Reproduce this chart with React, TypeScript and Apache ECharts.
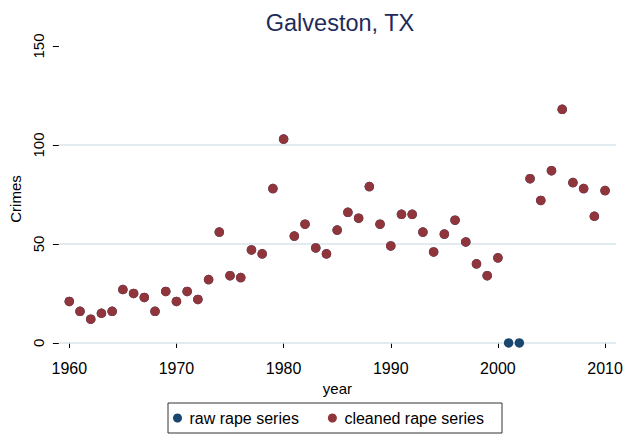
import React, { useEffect, useRef } from "react";
import * as echarts from "echarts";

const years: number[] = [
  1960, 1961, 1962, 1963, 1964, 1965, 1966, 1967, 1968, 1969,
  1970, 1971, 1972, 1973, 1974, 1975, 1976, 1977, 1978, 1979,
  1980, 1981, 1982, 1983, 1984, 1985, 1986, 1987, 1988, 1989,
  1990, 1991, 1992, 1993, 1994, 1995, 1996, 1997, 1998, 1999,
  2000, 2001, 2002, 2003, 2004, 2005, 2006, 2007, 2008, 2009, 2010,
];

const rawRape: (number | null)[] = [
  21, 16, 12, 15, 16, 27, 25, 23, 16, 26,
  21, 26, 22, 32, 56, 34, 33, 47, 45, 78,
  103, 54, 60, 48, 45, 57, 66, 63, 79, 60,
  49, 65, 65, 56, 46, 55, 62, 51, 40, 34,
  43, 0, 0, 83, 72, 87, 118, 81, 78, 64, 77,
];

const cleanedRape: (number | null)[] = [
  21, 16, 12, 15, 16, 27, 25, 23, 16, 26,
  21, 26, 22, 32, 56, 34, 33, 47, 45, 78,
  103, 54, 60, 48, 45, 57, 66, 63, 79, 60,
  49, 65, 65, 56, 46, 55, 62, 51, 40, 34,
  43, null, null, 83, 72, 87, 118, 81, 78, 64, 77,
];

const xTicks: number[] = [1960, 1970, 1980, 1990, 2000, 2010];
const yTicks: number[] = [0, 50, 100, 150];
const gridValues: number[] = [0, 50, 100];

const FONT = "Liberation Sans, Arial, Helvetica, sans-serif";
const Y_MIN = -4.57;
const Y_MAX = 150;
const X_MIN = 1959.03;
const X_MAX = 2011.02;

export default function App() {
  const ref = useRef<HTMLDivElement>(null);
  useEffect(() => {
    if (!ref.current) return;
    const chart = echarts.init(ref.current, undefined, { renderer: "svg" });
    const pair = (v: (number | null)[]) =>
      years.map((y, i) => [y, v[i]]);
    chart.setOption({
      animation: false,
      backgroundColor: "#ffffff",
      textStyle: { fontFamily: FONT },
      title: {
        text: "Galveston, TX",
        left: 335,
        textAlign: "center",
        top: 6,
        textStyle: { fontFamily: FONT, fontSize: 23.5, fontWeight: "normal", color: "#1e2b5a" },
      },
      grid: { left: 55, right: 20, top: 46, bottom: 85 },
      xAxis: {
        type: "value",
        min: X_MIN,
        max: X_MAX,
        name: "year",
        nameLocation: "middle",
        nameGap: 27,
        nameTextStyle: { fontFamily: FONT, fontSize: 15, color: "#000" },
        axisLine: { show: false },
        axisTick: { show: true, length: 5, customValues: xTicks, lineStyle: { color: "#000", width: 1 } },
        axisLabel: {
          customValues: xTicks,
          margin: 8,
          fontFamily: FONT,
          fontSize: 16,
          color: "#000",
          formatter: (v: number) => String(v),
        },
        splitLine: { show: false },
      },
      yAxis: {
        type: "value",
        min: Y_MIN,
        max: Y_MAX,
        name: "Crimes",
        nameLocation: "middle",
        nameGap: 26,
        nameTextStyle: { fontFamily: FONT, fontSize: 15, color: "#000" },
        axisLine: { show: false },
        axisTick: { show: true, length: 6, customValues: yTicks, lineStyle: { color: "#000", width: 1 } },
        axisLabel: {
          customValues: yTicks,
          rotate: 90,
          margin: 13,
          fontFamily: FONT,
          fontSize: 15,
          color: "#000",
          formatter: (v: number) => String(v),
        },
        splitLine: { show: false },
      },
      legend: {
        data: ["raw rape series", "cleaned rape series"],
        left: 168,
        top: 403,
        icon: "circle",
        itemWidth: 14,
        itemHeight: 9,
        itemGap: 29,
        padding: [7, 18, 7, 5],
        borderColor: "#333",
        borderWidth: 1,
        borderRadius: 0,
        textStyle: { fontFamily: FONT, fontSize: 16, color: "#000" },
      },
      series: [
        ...gridValues.map((v) => ({
          name: "grid" + v,
          type: "line",
          silent: true,
          symbol: "none",
          z: 0,
          lineStyle: { color: "#d8e4ea", width: 1.5 },
          data: [
            [X_MIN, v],
            [X_MAX, v],
          ],
        })),
        {
          name: "raw rape series",
          type: "scatter",
          symbol: "circle",
          symbolSize: 9.5,
          itemStyle: { color: "#1a476f", opacity: 1 },
          data: pair(rawRape),
        },
        {
          name: "cleaned rape series",
          type: "scatter",
          symbol: "circle",
          symbolSize: 9.5,
          itemStyle: { color: "#90353b", opacity: 1 },
          data: pair(cleanedRape),
        },
      ],
    });
    return () => chart.dispose();
  }, []);
  return (
    <div
      ref={ref}
      style={{ position: "fixed", left: 0, top: 0, width: 636, height: 437 }}
    />
  );
}
